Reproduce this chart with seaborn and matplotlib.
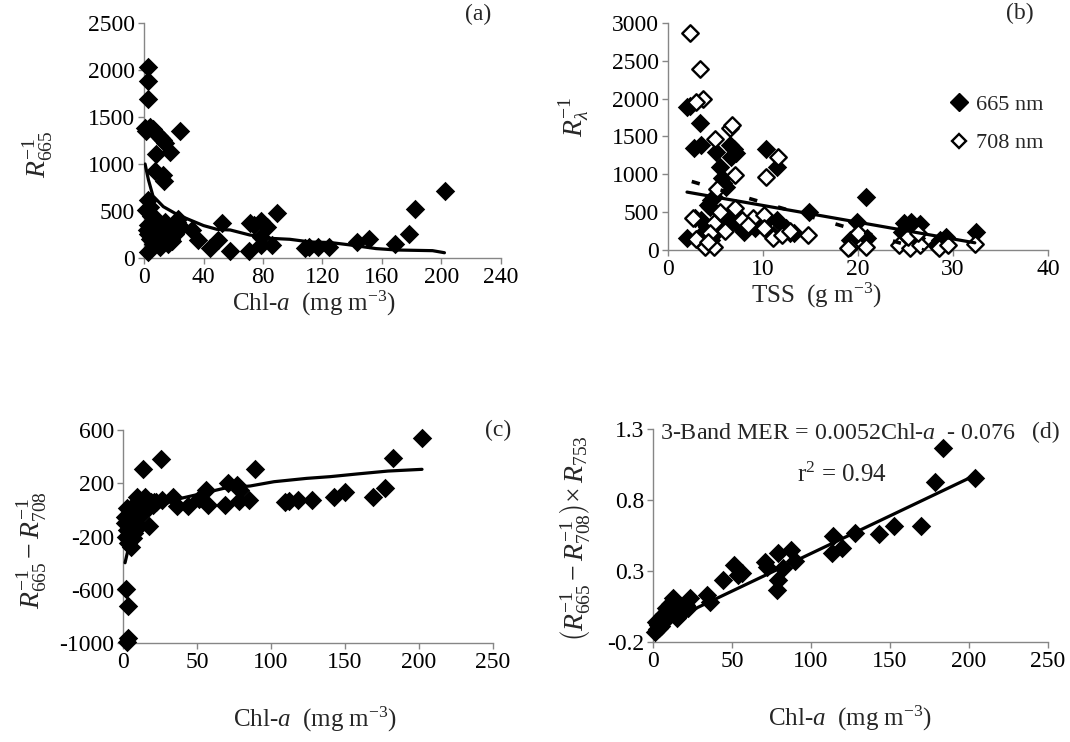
import matplotlib
matplotlib.use('Agg')
import matplotlib.pyplot as plt
from matplotlib.ticker import FixedLocator, FuncFormatter
import seaborn as sns

sns.set_theme(style='white')
plt.rcParams['font.family'] = ['Liberation Serif', 'DejaVu Serif']
plt.rcParams['mathtext.fontset'] = 'custom'
plt.rcParams['mathtext.rm'] = 'Liberation Serif'
plt.rcParams['mathtext.it'] = 'Liberation Serif:italic'
plt.rcParams['mathtext.bf'] = 'Liberation Serif:bold'
plt.rcParams['axes.unicode_minus'] = False

# ---------------- data ----------------
# (a) Chl-a vs R665^-1
a_chl = [2.5, 2.5, 2.5, 0.5, 1.5, 4, 6, 8, 10, 11.6, 12.7, 13.8, 24.2, 7.9, 17.5, 7.2, 12.9, 13.6,
         2.5, 1.1, 4, 5, 2, 6, 8, 10, 3, 7, 9, 12, 14, 15, 16, 18, 20, 22, 25, 4, 6, 11, 13, 17, 19,
         21, 23, 3, 5, 8, 2.7, 32.4, 36.4, 44.3, 49.7, 52.6, 57.8, 70.6, 71.3, 74, 78.4, 82.8, 78.9,
         78.4, 86.2, 89.6, 107.9, 111.2, 116.8, 124.7, 143.4, 151.5, 168.7, 178.4, 182.2, 202.6]
a_r665 = [2035, 1883, 1691, 1380, 1350, 1390, 1370, 1330, 1300, 1280, 1250, 1220, 1351, 1103, 1124,
          926, 883, 819, 617, 510, 540, 450, 300, 380, 420, 350, 250, 280, 200, 300, 380, 250, 150,
          200, 300, 380, 330, 200, 150, 120, 180, 220, 180, 250, 420, 350, 300, 160, 67, 298, 191,
          103, 191, 369, 78, 78, 369, 350, 397, 333, 222, 133, 133, 482, 103, 120, 121, 121, 174,
          202, 146, 252, 521, 716]
a_fit_x = [0.7, 3, 6, 13, 22, 31, 40, 49, 58, 71, 85, 98, 112, 125, 138, 156, 170, 194, 202]
a_fit_y = [1000, 830, 660, 546, 465, 404, 345, 305, 298, 245, 209, 199, 170, 165, 140, 100, 85, 78, 56]

# (b) TSS vs R^-1 at 665 nm (filled) and 708 nm (open)
b_tss_665 = [2.0, 2.35, 3.37, 2.7, 3.5, 5.05, 5.5, 5.65, 6.1, 6.5, 7.2, 6.9, 6.6, 10.3, 11.5, 20.8,
             14.8, 19.9, 2.8, 3.5, 4.4, 4.5, 4.1, 5.0, 5.05, 2.0, 3.3, 4.5, 6.35, 7.05, 7.6, 8.0, 8.6,
             9.2, 10.1, 11.5, 12.4, 12.8, 13.3, 11.1, 19.2, 19.6, 20.9, 24.8, 25.6, 26.5, 24.6, 25.7,
             26.1, 28.6, 29.3, 32.4, 28.2, 4.8, 4.2, 5.8]
b_r_665 = [1885, 1900, 1683, 1350, 1390, 1291, 1101, 947, 828, 1392, 1278, 1340, 1234, 1335, 1092,
           705, 498, 374, 418, 400, 572, 660, 308, 330, 242, 154, 176, 132, 352, 485, 308, 242, 330,
           290, 352, 396, 287, 220, 228, 198, 132, 167, 154, 352, 374, 343, 242, 198, 154, 132, 176,
           242, 66, 700, 600, 880]
b_tss_708 = [2.32, 3.37, 3.65, 3.0, 5.0, 6.5, 6.7, 7.1, 10.3, 11.6, 14.7, 3.9, 4.8, 4.8, 7.1, 9.0,
             10.1, 10.1, 11.1, 19.2, 20.8, 20.0, 24.3, 25.5, 26.5, 25.3, 28.5, 29.5, 32.3, 26.3, 3.0,
             4.4, 5.5, 7.8, 8.4, 6.0, 12.0, 12.8, 2.6, 4.2, 19.0, 5.2]
b_r_708 = [2864, 2392, 1996, 1960, 1470, 1608, 1652, 991, 969, 1233, 200, 44, 44, 352, 551, 418,
           462, 287, 154, 44, 44, 220, 66, 22, 66, 176, 22, 66, 75, 220, 150, 220, 500, 400, 330,
           250, 200, 250, 420, 100, 22, 800]
b_fit665_x = [2.0, 32.3]
b_fit665_y = [765, 95]
b_fit708_x = [2.5, 26.9]
b_fit708_y = [905, 0]

# (c) Chl-a vs R665^-1 - R708^-1
c_chl = [2.0, 3.2, 3.2, 2.6, 13.3, 25.5, 89.2, 17.6, 9.3, 14.6, 26.1, 33.6, 36.3, 43.7, 56.1, 57.7,
         68.9, 70.7, 77.3, 79, 78.4, 85.4, 109.5, 112.4, 118.4, 127.5, 142.6, 150, 51, 2.5, 6.5, 5.2,
         1.5, 1.0, 3, 4, 5, 6, 7, 8, 9, 10, 11, 12, 15, 16, 18, 19, 20, 22, 3.5, 4.5, 2, 7.5, 8.5,
         12, 14, 21, 169.1, 177, 182.6, 201.8]
c_diff = [-594, -722, -965, -990, 305, 380, 305, -119, 99, 99, 74, 99, 32, 32, 150, 37, 40, 200,
          187, 150, 70, 74, 62, 68, 74, 74, 99, 137, 80, 14, -214, -277, -50, -100, -150, -30, -80,
          0, 30, -60, -20, -130, 40, 60, 50, 70, 30, 60, 40, 60, -250, -200, -200, -170, -100, -40,
          0, 60, 99, 167, 388, 538]
c_fit_x = [1.35, 3.6, 5.9, 11.5, 22.8, 34, 54, 68, 86, 102, 124, 140, 158, 179, 202]
c_fit_y = [-397, -289, -201, -76, 12, 74, 125, 162, 180, 212, 237, 250, 270, 292, 305]

# (d) Chl-a vs 3-band model
d_chl = [2.3, 1.5, 3, 4.4, 5, 6, 7, 8, 9, 10, 11, 12.8, 13.5, 15, 16, 17, 18, 19, 20, 21, 22, 23.4,
         2, 3.5, 5.5, 8.5, 10.5, 14, 34, 36, 44.5, 51.3, 56.1, 54, 70.9, 72, 78.3, 79, 79.3, 87.1,
         89.8, 82, 113.1, 114.1, 119.4, 127.8, 143.2, 152.5, 169.6, 178.5, 183.7, 203.8]
d_mer = [-0.11, -0.13, -0.08, -0.045, -0.09, -0.06, 0.0, -0.03, 0.02, -0.02, 0.03, 0.11, 0.06,
         -0.03, 0.04, 0.0, 0.05, 0.02, 0.03, 0.06, 0.04, 0.11, -0.06, -0.1, -0.02, 0.04, 0.07, 0.02,
         0.131, 0.08, 0.237, 0.342, 0.284, 0.27, 0.366, 0.33, 0.166, 0.24, 0.425, 0.448, 0.37, 0.32,
         0.425, 0.546, 0.46, 0.565, 0.56, 0.619, 0.619, 0.929, 1.164, 0.957]
d_fit_x = [1.3, 204]
d_fit_y = [-0.1, 0.975]

# ---------------- figure ----------------
fig = plt.figure(figsize=(10.7, 7.42), dpi=100)
ax_a = fig.add_axes([0.1346, 0.6523, 0.3336, 0.3167])
ax_b = fig.add_axes([0.6243, 0.6631, 0.3551, 0.3060])
ax_c = fig.add_axes([0.1150, 0.1334, 0.3458, 0.2870])
ax_d = fig.add_axes([0.6103, 0.1348, 0.3692, 0.2870])

GREY = '#868686'
TICK_FS = 17
LAB_FS = 18
MS = 98


def style(ax):
    for s in ['top', 'right']:
        ax.spines[s].set_visible(False)
    for s in ['left', 'bottom']:
        ax.spines[s].set_color(GREY)
        ax.spines[s].set_linewidth(1.0)
    ax.tick_params(direction='out', length=4.5, width=1, color=GREY,
                   labelsize=TICK_FS, pad=2, labelcolor='black',
                   bottom=True, left=True)
    ax.grid(False)


def filled(ax, x, y):
    sns.scatterplot(x=x, y=y, ax=ax, marker='D', s=MS, color='black',
                    edgecolor='black', linewidth=0, clip_on=False, zorder=3,
                    legend=False)


def hollow(ax, x, y):
    sns.scatterplot(x=x, y=y, ax=ax, marker='D', s=MS * 0.72, color='white',
                    edgecolor='black', linewidth=1.7, clip_on=False, zorder=3,
                    legend=False)


def fitline(ax, x, y):
    sns.lineplot(x=x, y=y, ax=ax, color='black', linewidth=2.3, sort=False,
                 estimator=None, zorder=4)


# (a)
filled(ax_a, a_chl, a_r665)
fitline(ax_a, a_fit_x, a_fit_y)
ax_a.set_xlim(0, 240)
ax_a.set_ylim(0, 2500)
ax_a.xaxis.set_major_locator(FixedLocator([0, 40, 80, 120, 160, 200, 240]))
ax_a.yaxis.set_major_locator(FixedLocator([0, 500, 1000, 1500, 2000, 2500]))
style(ax_a)
ax_a.set_xlabel('Chl-$a$  (mg m$^{\\mathrm{-3}}$)', fontsize=LAB_FS)
ax_a.set_ylabel('$R_{665}^{-1}$', fontsize=LAB_FS + 2)
ax_a.xaxis.set_label_coords(0.476, -0.13)
ax_a.yaxis.set_label_coords(-0.25, 0.44)
ax_a.text(0.936, 1.038, '(a)', transform=ax_a.transAxes, fontsize=TICK_FS,
          ha='center', va='center')

# (b)
filled(ax_b, b_tss_665, b_r_665)
hollow(ax_b, b_tss_708, b_r_708)
fitline(ax_b, b_fit665_x, b_fit665_y)
sns.lineplot(x=b_fit708_x, y=b_fit708_y, ax=ax_b, color='black', linewidth=2.6,
             sort=False, estimator=None, zorder=4)
ax_b.lines[-1].set_dashes([2.3, 6.0])
ax_b.set_xlim(0, 40)
ax_b.set_ylim(0, 3000)
ax_b.xaxis.set_major_locator(FixedLocator([0, 10, 20, 30, 40]))
ax_b.yaxis.set_major_locator(FixedLocator([0, 500, 1000, 1500, 2000, 2500, 3000]))
style(ax_b)
ax_b.set_xlabel('TSS  (g m$^{\\mathrm{-3}}$)', fontsize=LAB_FS)
ax_b.set_ylabel('$R_{\\lambda}^{-1}$', fontsize=LAB_FS + 2)
ax_b.xaxis.set_label_coords(0.39, -0.135)
ax_b.yaxis.set_label_coords(-0.2, 0.586)
ax_b.text(0.926, 1.04, '(b)', transform=ax_b.transAxes, fontsize=TICK_FS,
          ha='center', va='center')
h1 = plt.Line2D([], [], marker='D', ls='none', color='black', markersize=8.8)
h2 = plt.Line2D([], [], marker='D', ls='none', markerfacecolor='white',
                markeredgecolor='black', markeredgewidth=1.7, markersize=7.6)
ax_b.legend([h1, h2], ['665 nm', '708 nm'], frameon=False, fontsize=TICK_FS - 1,
            loc='upper left', bbox_to_anchor=(0.74, 0.685), handlelength=0.9,
            handletextpad=0.3, labelspacing=0.8, borderpad=0, borderaxespad=0)

# (c)
filled(ax_c, c_chl, c_diff)
fitline(ax_c, c_fit_x, c_fit_y)
ax_c.set_xlim(0, 250)
ax_c.set_ylim(-1000, 600)
ax_c.xaxis.set_major_locator(FixedLocator([0, 50, 100, 150, 200, 250]))
ax_c.yaxis.set_major_locator(FixedLocator([-1000, -600, -200, 200, 600]))
style(ax_c)
ax_c.set_xlabel('Chl-$a$  (mg m$^{\\mathrm{-3}}$)', fontsize=LAB_FS)
ax_c.set_ylabel('$R_{665}^{-1} - R_{708}^{-1}$', fontsize=LAB_FS + 2)
ax_c.xaxis.set_label_coords(0.52, -0.29)
ax_c.yaxis.set_label_coords(-0.2, 0.437)
ax_c.text(1.014, 1.0, '(c)', transform=ax_c.transAxes, fontsize=TICK_FS,
          ha='center', va='center')

# (d)
filled(ax_d, d_chl, d_mer)
fitline(ax_d, d_fit_x, d_fit_y)
ax_d.set_xlim(0, 250)
ax_d.set_ylim(-0.2, 1.3)
ax_d.xaxis.set_major_locator(FixedLocator([0, 50, 100, 150, 200, 250]))
ax_d.yaxis.set_major_locator(FixedLocator([-0.2, 0.3, 0.8, 1.3]))
ax_d.yaxis.set_major_formatter(FuncFormatter(lambda v, p: f'{v:.1f}'))
style(ax_d)
ax_d.set_xlabel('Chl-$a$  (mg m$^{\\mathrm{-3}}$)', fontsize=LAB_FS)
ax_d.set_ylabel('$\\left(R_{665}^{-1} - R_{708}^{-1}\\right)\\!\\times R_{753}$',
                fontsize=LAB_FS + 2)
ax_d.xaxis.set_label_coords(0.5, -0.29)
ax_d.yaxis.set_label_coords(-0.155, 0.488)
ax_d.text(0.995, 0.986, '(d)', transform=ax_d.transAxes, fontsize=TICK_FS,
          ha='center', va='center')
ax_d.text(0.018, 0.981, '3-Band MER = 0.0052Chl-$a$  - 0.076', transform=ax_d.transAxes,
          fontsize=LAB_FS - 0.7, ha='left', va='center')
ax_d.text(0.478, 0.784, 'r$^{\\mathrm{2}}$ = 0.94', transform=ax_d.transAxes,
          fontsize=LAB_FS, ha='center', va='center')

fig.savefig('out.png', dpi=100, facecolor='white')
